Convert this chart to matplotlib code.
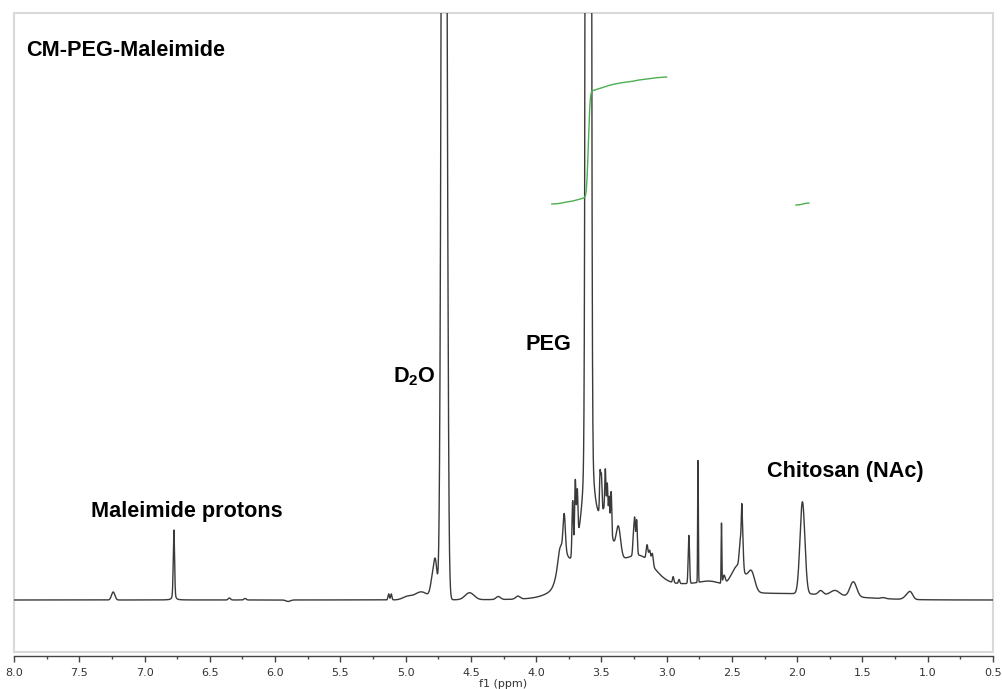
import numpy as np
import matplotlib
matplotlib.use("Agg")
import matplotlib.pyplot as plt
from matplotlib.patches import Rectangle
from matplotlib.ticker import MultipleLocator

plt.rcParams["mathtext.fontset"] = "custom"
plt.rcParams["mathtext.rm"] = "Liberation Sans"
plt.rcParams["mathtext.bf"] = "Liberation Sans:bold"

# 1H NMR of CM-PEG-Maleimide in D2O, described as a list of resonances
# (shift in ppm, height in arbitrary units, half width in ppm, Lorentzian fraction)
peak_ppm = [7.24, 6.775, 6.35, 6.23, 5.90,
            5.13, 5.11, 4.99, 4.88, 4.79, 4.77,
            4.705, 4.675, 4.51, 4.29, 4.14,
            3.55, 3.465, 3.20, 2.85, 2.00, 2.65,
            3.82, 3.80, 3.785, 3.72, 3.70, 3.685,
            3.60, 3.60,
            3.51, 3.50, 3.47, 3.455, 3.44, 3.425,
            3.37, 3.255, 3.245, 3.23, 3.15, 3.13, 3.11,
            2.95, 2.905, 2.83, 2.76, 2.58, 2.56,
            2.45, 2.435, 2.425, 2.42, 2.35,
            1.96, 1.82, 1.71, 1.57, 1.34, 1.15, 1.13]
peak_height = [8, 70, 2, 1.5, -1.5,
               6, 6, 3, 8, 22, 28,
               1900, 30, 7, 3, 3,
               45, 35, 30, 15, 6, 5,
               8, 30, 35, 55, 68, 50,
               10000, 150,
               40, 35, 40, 30, 25, 40,
               30, 18, 35, 35, 15, 12, 12,
               6, 4, 48, 122, 60, 8,
               25, 26, 26, 34, 18,
               92, 4, 5, 15, 1, 5, 4]
peak_width = [0.015, 0.006, 0.01, 0.01, 0.02,
              0.006, 0.006, 0.04, 0.06, 0.02, 0.015,
              0.018, 0.005, 0.04, 0.02, 0.02,
              0.20, 0.045, 0.13, 0.35, 0.45, 0.10,
              0.015, 0.04, 0.01, 0.006, 0.006, 0.006,
              0.0124, 0.04,
              0.005, 0.005, 0.005, 0.005, 0.005, 0.005,
              0.02, 0.006, 0.006, 0.006, 0.008, 0.008, 0.008,
              0.006, 0.006, 0.006, 0.003, 0.003, 0.01,
              0.06, 0.01, 0.004, 0.008, 0.03,
              0.022, 0.02, 0.04, 0.03, 0.02, 0.03, 0.02]
peak_lorentz = [0.0] * len(peak_ppm)
peak_lorentz[29] = 1.0   # PEG skirt
peak_lorentz[1] = 0.3    # maleimide singlet

tick_values = np.arange(8.0, 0.49, -0.5)

# integral regions (ppm) and the level where each integral curve starts
integral_ranges = [(3.88, 3.00), (2.01, 1.91)]
integral_start = [396, 395]
integral_total = 127

label_texts = ["CM-PEG-Maleimide", "Maleimide protons", r"D$_\mathbf{2}$O",
               "PEG", "Chitosan (NAc)"]
label_ppm = [7.908, 7.41, 5.095, 4.085, 2.23]
label_level = [550, 89, 218, 255, 128]
label_valign = ["center", "center", "baseline", "center", "center"]

ppm = np.linspace(8.0, 0.5, 15000)


def lineshape(x, c, h, w, eta):
    d = (x - c) / w
    gauss = np.exp(-np.log(2) * d ** 2)
    lor = 1.0 / (1.0 + d ** 2)
    return h * ((1 - eta) * gauss + eta * lor)


spectrum = np.zeros_like(ppm)
for c, h, w, eta in zip(peak_ppm, peak_height, peak_width, peak_lorentz):
    spectrum += lineshape(ppm, c, h, w, eta)

fig = plt.figure(figsize=(10.02, 6.89), dpi=100)
ax = fig.add_axes([14 / 1002, 37 / 689, 979 / 1002, 639 / 689])

ax.plot(ppm, spectrum, color="#3a3a3a", lw=1.0)

# running integrals, scaled relative to the first region
step = abs(ppm[1] - ppm[0])
first = (ppm <= integral_ranges[0][0]) & (ppm >= integral_ranges[0][1])
scale = integral_total / (spectrum[first].sum() * step)
for (hi, lo), base in zip(integral_ranges, integral_start):
    m = (ppm <= hi) & (ppm >= lo)
    curve = base + np.cumsum(spectrum[m]) * step * scale
    ax.plot(ppm[m], curve, color="#4caf50", lw=1.0)

ax.set_xlim(8.0, 0.5)
ax.set_ylim(-52, 587)

for side in ("left", "right", "top"):
    ax.spines[side].set_visible(False)
ax.add_patch(Rectangle((0, 0), 1, 1, transform=ax.transAxes, fill=False,
                       edgecolor="#d9d9d9", lw=1.5, clip_on=False))
ax.spines["bottom"].set_position(("outward", 3))
ax.spines["bottom"].set_color("#444444")
ax.spines["bottom"].set_linewidth(1.0)

ax.set_yticks([])
ax.set_xticks(tick_values)
ax.set_xticklabels([f"{t:.1f}" for t in tick_values])
ax.xaxis.set_minor_locator(MultipleLocator(0.25))
ax.tick_params(axis="x", which="major", length=4, width=1, color="#444444",
               labelsize=8, labelcolor="#333333", pad=4.5)
ax.tick_params(axis="x", which="minor", length=2, width=1, color="#444444")
ax.set_xlabel("f1 (ppm)", fontsize=8, color="#333333", labelpad=1)

for text, x, y, va in zip(label_texts, label_ppm, label_level, label_valign):
    ax.text(x, y, text, fontsize=15.6, fontweight="bold", family="Liberation Sans",
            color="black", ha="left", va=va)

fig.savefig("out.png", dpi=100)
